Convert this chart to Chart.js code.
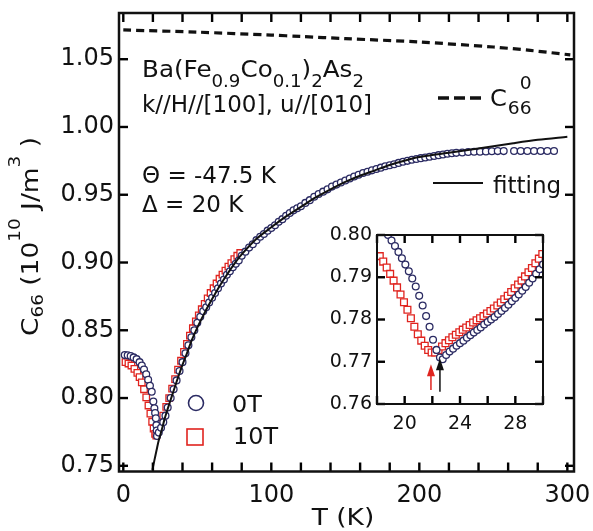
<!DOCTYPE html>
<html lang="en">
<head>
<meta charset="utf-8">
<title>C66 elastic constant of Ba(Fe0.9Co0.1)2As2</title>
<script src="https://cdn.jsdelivr.net/npm/chart.js@4.4.0/dist/chart.umd.min.js"></script>
<style>
html, body { margin: 0; padding: 0; background: #ffffff; }
#box { position: relative; width: 593px; height: 531px; }
#c66Main { position: absolute; left: 0; top: 0; }
#c66Inset { position: absolute; left: 322px; top: 222px; }
</style>
</head>
<body>
<div id="box">
<canvas id="c66Main" width="593" height="531"></canvas>
<canvas id="c66Inset" width="228" height="215"></canvas>
</div>
<script>
/*********************** ticks ***********************/
const xTicks = [0, 20, 40, 60, 80, 100, 120, 140, 160, 180, 200, 220, 240, 260, 280, 300];
const xLabels = [0, 100, 200, 300];
const yTicks = [0.75, 0.80, 0.85, 0.90, 0.95, 1.00, 1.05];
const insetXTicks = [18, 20, 22, 24, 26, 28, 30];
const insetXLabels = [20, 24, 28];
const insetYTicks = [0.76, 0.77, 0.78, 0.79, 0.80];

/*********************** data ***********************/
// main panel, 0 T (circles)
const temp0T = [1.0, 3.0, 5.0, 7.0, 9.0, 11.0, 12.5, 14.0, 15.5, 16.8, 18.0, 19.2, 20.3, 21.0, 21.5, 22.0, 22.4, 22.6, 22.8,
    24.0, 25.5, 27.0, 28.5, 30.0, 32, 34, 36, 38, 40, 42, 44, 46, 48, 50, 52, 54, 56, 58, 60, 62, 64, 66, 68, 70,
    72, 74, 76, 78, 80, 82.5, 85, 87.5, 90, 92.5, 95, 97.5, 100, 102.5, 105, 107.5, 110, 112.5, 115, 117.5, 120,
    123, 126, 129, 132, 135, 138, 141, 144, 147, 150, 153, 156, 159, 162, 165, 168, 171, 174, 177, 180, 183, 186,
    189, 192, 195, 198, 201, 204, 207, 210, 213, 216, 219, 222, 225, 229, 233, 237, 241, 245, 249, 253, 257,
    264, 268.5, 273, 277.5, 282, 286.5, 291];
const c66_0T = [0.8317, 0.8315, 0.8310, 0.8300, 0.8287, 0.8265, 0.8240, 0.8210, 0.8175, 0.8135, 0.8090, 0.8046, 0.7975, 0.7925, 0.7890, 0.7850, 0.7800, 0.7760, 0.7720,
    0.7745, 0.7780, 0.7822, 0.7870, 0.7930, 0.8000, 0.8065, 0.8130, 0.8200, 0.8265, 0.8330, 0.8390, 0.8448, 0.8500, 0.8555, 0.8600, 0.8640, 0.8670, 0.8705, 0.8740, 0.8775, 0.8810, 0.8845, 0.8875, 0.8910,
    0.8935, 0.8965, 0.8990, 0.9015, 0.9050, 0.9080, 0.9110, 0.9135, 0.9165, 0.9190, 0.9210, 0.9235, 0.9255, 0.9275, 0.9300, 0.9320, 0.9345, 0.9365, 0.9385, 0.9400, 0.9415,
    0.9440, 0.9460, 0.9485, 0.9505, 0.9523, 0.9540, 0.9560, 0.9575, 0.9590, 0.9605, 0.9620, 0.9635, 0.9648, 0.9660, 0.9670, 0.9680, 0.9690, 0.9700, 0.9710, 0.9718, 0.9725, 0.9735,
    0.9744, 0.9750, 0.9758, 0.9764, 0.9770, 0.9775, 0.9780, 0.9786, 0.9792, 0.9797, 0.9802, 0.9806, 0.9809, 0.9812, 0.9815, 0.9817, 0.9818, 0.9820, 0.9821, 0.9822, 0.9822,
    0.9823, 0.9823, 0.9823, 0.9823, 0.9823, 0.9823, 0.9823];

// main panel, 10 T (squares)
const temp10T = [1.5, 3.5, 5.5, 7.5, 9.5, 11.0, 12.5, 14.0, 15.5, 17.0, 18.3, 19.5, 20.5, 21.5, 22.3, 23.5, 25.0, 27.0, 29.0,
    31, 33, 35, 37, 39, 41, 43, 45, 47, 49, 51, 53, 55, 57, 59, 61, 63, 65, 67, 69, 71, 73, 75, 77, 79];
const c66_10T = [0.8265, 0.8255, 0.8240, 0.8215, 0.8185, 0.8155, 0.8115, 0.8065, 0.8005, 0.7945, 0.7885, 0.7825, 0.7775, 0.7735, 0.7722, 0.7760, 0.7810, 0.7870, 0.7935,
    0.8000, 0.8070, 0.8140, 0.8210, 0.8275, 0.8340, 0.8400, 0.8460, 0.8515, 0.8565, 0.8610, 0.8655, 0.8695, 0.8735, 0.8775, 0.8810, 0.8845, 0.8880, 0.8910, 0.8940, 0.8970, 0.8995, 0.9025, 0.9050, 0.9070];

// fitting curve
const tempFit = [19.7, 21, 22.5, 24, 26, 28, 30, 32.7, 36, 39.5, 43, 46.2, 50, 55, 60, 65, 70, 75, 80, 90, 100, 110, 120,
    130, 140, 150, 160, 170, 180, 196, 210, 220, 241, 263.5, 280, 300];
const c66Fit = [0.747, 0.754, 0.7616, 0.769, 0.7766, 0.785, 0.792, 0.801, 0.812, 0.823, 0.833, 0.8425, 0.852, 0.863, 0.873, 0.8825, 0.891, 0.899, 0.906, 0.9175, 0.926, 0.934, 0.941,
    0.948, 0.954, 0.9595, 0.964, 0.968, 0.972, 0.977, 0.9795, 0.981, 0.9843, 0.988, 0.9905, 0.9928];

// background C66^0 (dashed)
const tempBg = [0, 50, 100, 120, 150, 200, 250, 275, 302];
const c66Bg = [1.0716, 1.0700, 1.0678, 1.0668, 1.0652, 1.0627, 1.0590, 1.0565, 1.0532];

// inset, 0 T
const insetTemp0T = [18.8, 19.05, 19.3, 19.55, 19.8, 20.05, 20.3, 20.55, 20.8, 21.05, 21.3, 21.55, 21.8, 22.05, 22.3, 22.55, 22.75,
    23.0, 23.25, 23.5, 23.75, 24.0, 24.25, 24.5, 24.75, 25.0, 25.25, 25.5, 25.75, 26.0, 26.25, 26.5, 26.75, 27.0, 27.25,
    27.5, 27.75, 28.0, 28.25, 28.5, 28.75, 29.0, 29.25, 29.5, 29.75, 30.0];
const insetC0T = [0.8000, 0.7987, 0.7974, 0.7960, 0.7945, 0.7930, 0.7914, 0.7897, 0.7878, 0.7856, 0.7833, 0.7808, 0.7783, 0.7752, 0.7728, 0.7710, 0.7706,
    0.7716, 0.7724, 0.7731, 0.7738, 0.7744, 0.7750, 0.7757, 0.7763, 0.7769, 0.7775, 0.7781, 0.7788, 0.7794, 0.7800, 0.7806, 0.7813, 0.7820, 0.7827,
    0.7835, 0.7843, 0.7851, 0.7859, 0.7868, 0.7877, 0.7887, 0.7897, 0.7908, 0.7919, 0.7930];

// inset, 10 T
const insetTemp10T = [18.2, 18.45, 18.7, 18.95, 19.2, 19.45, 19.7, 19.95, 20.2, 20.45, 20.7, 20.95, 21.2, 21.45, 21.7, 21.95, 22.2,
    22.45, 22.7, 22.95, 23.2, 23.45, 23.7, 23.95, 24.2, 24.45, 24.7, 24.95, 25.2, 25.45, 25.7, 25.95, 26.2, 26.45, 26.7,
    26.95, 27.2, 27.45, 27.7, 27.95, 28.2, 28.45, 28.7, 28.95, 29.2, 29.45, 29.7, 29.95];
const insetC10T = [0.7950, 0.7937, 0.7923, 0.7908, 0.7892, 0.7876, 0.7859, 0.7841, 0.7823, 0.7803, 0.7783, 0.7765, 0.7750, 0.7738, 0.7728, 0.7722, 0.7722,
    0.7728, 0.7736, 0.7744, 0.7751, 0.7758, 0.7764, 0.7770, 0.7776, 0.7781, 0.7787, 0.7793, 0.7798, 0.7803, 0.7808, 0.7814, 0.7820, 0.7826, 0.7833,
    0.7840, 0.7848, 0.7856, 0.7865, 0.7874, 0.7883, 0.7892, 0.7902, 0.7912, 0.7922, 0.7933, 0.7944, 0.7955];

// transition arrows in the inset
const arrowTemp = [21.9, 22.55];
const arrowFrom = [0.7633, 0.7629];
const arrowTo = [0.7694, 0.7708];
const arrowColor = ['#e0241f', '#111111'];

/*********************** helpers ***********************/
const FONT = '"DejaVu Sans", sans-serif';
const NAVY = '#2b2b63';
const RED = '#e0241f';
const pts = (xs, ys) => xs.map((v, i) => ({x: v, y: ys[i]}));

// draw a run of text pieces: [text, size, dy], stretched horizontally by sx
function runs(ctx, x, y, parts, sx) {
    let cx = x;
    parts.forEach(([t, size, dy]) => {
        ctx.font = size + 'px ' + FONT;
        ctx.save();
        ctx.translate(cx, y + dy);
        ctx.scale(sx, 1);
        ctx.fillText(t, 0, 0);
        ctx.restore();
        cx += ctx.measureText(t).width * sx;
    });
    return cx;
}

// box around the plot with inward ticks on all four sides
function drawFrame(chart, xt, yt, lw, len) {
    const ctx = chart.ctx;
    const a = chart.chartArea;
    const px = xt.map(v => chart.scales.x.getPixelForValue(v));
    const py = yt.map(v => chart.scales.y.getPixelForValue(v));
    ctx.fillStyle = '#000';
    px.forEach(p => {
        ctx.fillRect(p - 1.2, a.bottom - len, 2.4, len);
        ctx.fillRect(p - 1.2, a.top, 2.4, len);
    });
    py.forEach(p => {
        ctx.fillRect(a.left, p - 1.2, len, 2.4);
        ctx.fillRect(a.right - len, p - 1.2, len, 2.4);
    });
    ctx.strokeStyle = '#111';
    ctx.lineWidth = lw;
    ctx.strokeRect(a.left, a.top, a.right - a.left, a.bottom - a.top);
}

/*********************** main chart ***********************/
const mainDecor = {
    id: 'mainDecor',
    afterDraw(chart) {
        const ctx = chart.ctx;
        ctx.save();
        drawFrame(chart, xTicks, yTicks, 2.5, 9);
        ctx.fillStyle = '#111';
        ctx.textBaseline = 'alphabetic';
        ctx.textAlign = 'left';

        // sample and configuration text
        runs(ctx, 142, 77, [['Ba(Fe', 23, 0], ['0.9', 17, 10], ['Co', 23, 0], ['0.1', 17, 10], [')', 23, 0], ['2', 17, 10], ['As', 23, 0], ['2', 17, 10]], 1.07);
        runs(ctx, 142, 112, [['k//H//[100], u//[010]', 23, 0]], 1);
        runs(ctx, 142, 183, [['\u0398 = -47.5 K', 23, 0]], 1);
        runs(ctx, 142, 212, [['\u0394 = 20 K', 23, 0]], 1);

        // legend: C66^0 (dashed)
        ctx.strokeStyle = '#111';
        ctx.lineWidth = 3.5;
        ctx.setLineDash([11, 5]);
        ctx.beginPath(); ctx.moveTo(438, 98); ctx.lineTo(481, 98); ctx.stroke();
        ctx.setLineDash([]);
        const cEnd = runs(ctx, 490, 106, [['C', 23, 0]], 1.05);
        const subEnd = runs(ctx, cEnd + 1, 106, [['66', 17, 8]], 1.1);
        ctx.font = '17px ' + FONT;
        runs(ctx, subEnd - ctx.measureText('0').width * 1.1, 106, [['0', 17, -17]], 1.1);

        // legend: fitting
        ctx.lineWidth = 2;
        ctx.beginPath(); ctx.moveTo(433, 183); ctx.lineTo(483, 183); ctx.stroke();
        runs(ctx, 493, 193, [['fitting', 23, 0]], 1);

        // legend: 0T / 10T
        ctx.lineWidth = 1.6;
        ctx.strokeStyle = NAVY;
        ctx.beginPath(); ctx.arc(196, 403, 7.5, 0, Math.PI * 2); ctx.stroke();
        ctx.strokeStyle = RED;
        ctx.strokeRect(187, 429, 16, 16);
        runs(ctx, 232, 412, [['0T', 23, 0]], 1.04);
        runs(ctx, 233, 443.5, [['10T', 23, 0]], 1.04);

        // x title
        ctx.font = '23px ' + FONT;
        const tw = ctx.measureText('T (K)').width * 1.15;
        runs(ctx, 343 - tw / 2, 525, [['T (K)', 23, 0]], 1.15);

        // y title (rotated)
        ctx.save();
        ctx.translate(38, 336);
        ctx.rotate(-Math.PI / 2);
        runs(ctx, 0, 0, [['C', 23, 0], ['66', 16, 5], [' (10', 23, 0], ['10', 16, -18], [' J/m', 23, 0], ['3', 16, -18], [' )', 23, 0]], 1.15);
        ctx.restore();
        ctx.restore();
    }
};

new Chart(document.getElementById('c66Main'), {
    type: 'scatter',
    data: {
        datasets: [
            {
                label: 'fitting', data: pts(tempFit, c66Fit), showLine: true, pointRadius: 0,
                borderColor: '#111', borderWidth: 2, tension: 0.3, order: 0
            },
            {
                label: '0T', data: pts(temp0T, c66_0T), pointStyle: 'circle', pointRadius: 3.4,
                borderColor: NAVY, backgroundColor: '#fff', pointBorderWidth: 1.3, order: 1
            },
            {
                label: '10T', data: pts(temp10T, c66_10T), pointStyle: 'rect', pointRadius: 4.6,
                borderColor: RED, backgroundColor: '#fff', pointBorderWidth: 1.3, order: 2
            },
            {
                label: 'C66^0', data: pts(tempBg, c66Bg), showLine: true, pointRadius: 0,
                borderColor: '#111', borderWidth: 3.2, borderDash: [8, 5], tension: 0.3, order: 3
            }
        ]
    },
    options: {
        responsive: false,
        animation: false,
        layout: {autoPadding: false, padding: {top: 13, right: 19, left: 0, bottom: 0}},
        plugins: {legend: {display: false}, tooltip: {enabled: false}},
        scales: {
            x: {
                type: 'linear', min: -2.9, max: 304.5,
                grid: {display: false, drawTicks: false}, border: {display: false},
                afterBuildTicks: s => { s.ticks = xTicks.map(v => ({value: v})); },
                afterFit: s => { s.height = 59.5; },
                ticks: {
                    autoSkip: false, maxRotation: 0, padding: 0, color: '#111',
                    font: {family: 'DejaVu Sans', size: 24, lineHeight: 2.0},
                    callback: v => xLabels.includes(v) ? String(v) : ''
                }
            },
            y: {
                type: 'linear', min: 0.7458, max: 1.0841,
                grid: {display: false, drawTicks: false}, border: {display: false},
                afterBuildTicks: s => { s.ticks = yTicks.map(v => ({value: v})); },
                afterFit: s => { s.width = 119; },
                ticks: {
                    autoSkip: false, padding: 5, color: '#111',
                    font: {family: 'DejaVu Sans', size: 24, lineHeight: 0.5},
                    callback: v => v.toFixed(2)
                }
            }
        }
    },
    plugins: [mainDecor]
});

/*********************** inset chart ***********************/
const insetDecor = {
    id: 'insetDecor',
    afterDraw(chart) {
        const ctx = chart.ctx;
        const sx = chart.scales.x;
        const sy = chart.scales.y;
        ctx.save();
        drawFrame(chart, insetXTicks, insetYTicks, 2, 8);
        arrowTemp.forEach((t, i) => {
            const px = sx.getPixelForValue(t);
            const y0 = sy.getPixelForValue(arrowFrom[i]);
            const y1 = sy.getPixelForValue(arrowTo[i]);
            ctx.strokeStyle = arrowColor[i];
            ctx.fillStyle = arrowColor[i];
            ctx.lineWidth = 1.5;
            ctx.beginPath(); ctx.moveTo(px, y0); ctx.lineTo(px, y1 + 10); ctx.stroke();
            ctx.beginPath();
            ctx.moveTo(px, y1); ctx.lineTo(px - 4, y1 + 12); ctx.lineTo(px + 4, y1 + 12);
            ctx.closePath(); ctx.fill();
        });
        ctx.restore();
    }
};

new Chart(document.getElementById('c66Inset'), {
    type: 'scatter',
    data: {
        datasets: [
            {
                label: '0T', data: pts(insetTemp0T, insetC0T), pointStyle: 'circle', pointRadius: 3.4,
                borderColor: NAVY, backgroundColor: '#fff', pointBorderWidth: 1.3, order: 0
            },
            {
                label: '10T', data: pts(insetTemp10T, insetC10T), pointStyle: 'rect', pointRadius: 4.8,
                borderColor: RED, backgroundColor: '#fff', pointBorderWidth: 1.3, order: 1
            }
        ]
    },
    options: {
        responsive: false,
        animation: false,
        layout: {autoPadding: false, padding: {top: 13, right: 7, left: 0, bottom: 0}},
        plugins: {legend: {display: false}, tooltip: {enabled: false}},
        scales: {
            x: {
                type: 'linear', min: 18, max: 30,
                grid: {display: false, drawTicks: false}, border: {display: false},
                afterBuildTicks: s => { s.ticks = insetXTicks.map(v => ({value: v})); },
                afterFit: s => { s.height = 33; },
                ticks: {
                    autoSkip: false, maxRotation: 0, padding: 0, color: '#111',
                    font: {family: 'DejaVu Sans', size: 19, lineHeight: 2.1},
                    callback: v => insetXLabels.includes(v) ? String(v) : ''
                }
            },
            y: {
                type: 'linear', min: 0.76, max: 0.80,
                grid: {display: false, drawTicks: false}, border: {display: false},
                afterBuildTicks: s => { s.ticks = insetYTicks.map(v => ({value: v})); },
                afterFit: s => { s.width = 55; },
                ticks: {
                    autoSkip: false, padding: 5, color: '#111',
                    font: {family: 'DejaVu Sans', size: 19, lineHeight: 0.5},
                    callback: v => v.toFixed(2)
                }
            }
        }
    },
    plugins: [insetDecor]
});
</script>
</body>
</html>
